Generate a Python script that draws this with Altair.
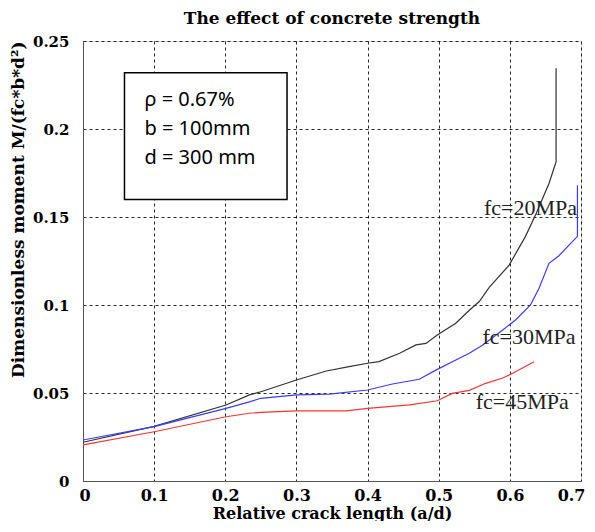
import altair as alt
import pandas as pd

# ---- data ----
x_20 = [0.0, 0.1, 0.201, 0.234, 0.25, 0.3, 0.342, 0.374, 0.4, 0.416, 0.445, 0.468, 0.482, 0.498,
        0.524, 0.543, 0.557, 0.571, 0.599, 0.622, 0.637, 0.655, 0.665, 0.665]
y_20 = [0.022, 0.031, 0.0432, 0.0489, 0.0507, 0.0574, 0.0625, 0.065, 0.0669, 0.0678, 0.0726, 0.0773, 0.0782, 0.083,
        0.0896, 0.097, 0.102, 0.110, 0.1227, 0.139, 0.152, 0.169, 0.1814, 0.2345]

x_30 = [0.0, 0.1, 0.201, 0.234, 0.25, 0.3, 0.346, 0.4, 0.435, 0.4726, 0.496, 0.524, 0.543, 0.562,
        0.59, 0.608, 0.629, 0.641, 0.655, 0.669, 0.695, 0.695]
y_30 = [0.0233, 0.0309, 0.0413, 0.045, 0.047, 0.0489, 0.0494, 0.0517, 0.0551, 0.0578, 0.063, 0.0688, 0.0726, 0.0773,
        0.0858, 0.0915, 0.100, 0.1095, 0.1237, 0.128, 0.139, 0.168]

x_45 = [0.0, 0.1, 0.201, 0.234, 0.25, 0.3, 0.37, 0.4, 0.459, 0.498, 0.519, 0.543, 0.566, 0.59, 0.604, 0.634]
y_45 = [0.0205, 0.028, 0.0365, 0.0385, 0.039, 0.0398, 0.0398, 0.0413, 0.0432, 0.0456, 0.0498, 0.0515, 0.0555, 0.0585, 0.0612, 0.0678]

series_names = ["fc=20MPa", "fc=30MPa", "fc=45MPa"]
series_colors = ["#333333", "#3b3bff", "#ff3333"]

x_ticks = [0, 0.1, 0.2, 0.3, 0.4, 0.5, 0.6, 0.7]
y_ticks = [0, 0.05, 0.1, 0.15, 0.2, 0.25]

info_lines = ["\u03c1 = 0.67%", "b = 100mm", "d = 300 mm"]

# ---- annotation placement (data units) ----
label_x = [0.5636, 0.5615, 0.552]
label_y = [0.155, 0.0818, 0.0449]
box_x = [0.0583, 0.2868]
box_y = [0.160, 0.232]
info_x = 0.0864
info_y = [0.2165, 0.1998, 0.1837]

rows = []
for name, xs, ys in zip(series_names, [x_20, x_30, x_45], [y_20, y_30, y_45]):
    for i, (a, b) in enumerate(zip(xs, ys)):
        rows.append({"series": name, "x": a, "y": b, "order": i})
df = pd.DataFrame(rows)

serif = "DejaVu Serif"

xscale = alt.Scale(domain=[0, 0.7], nice=False, zero=False)
yscale = alt.Scale(domain=[0, 0.25], nice=False, zero=False)

lines = alt.Chart(df).mark_line(strokeWidth=1.2, clip=True).encode(
    x=alt.X("x:Q", scale=xscale,
            axis=alt.Axis(title="Relative crack length (a/d)", values=x_ticks, format="~g",
                          grid=True, gridDash=[3, 3], gridColor="#000000", gridOpacity=0.85,
                          ticks=False, labelPadding=6, titlePadding=2,
                          labelFont=serif, labelFontSize=16, labelFontWeight="bold", labelColor="#000",
                          titleFont=serif, titleFontSize=16, titleFontWeight="bold", titleColor="#000",
                          domainColor="#555", labelFlush=True, labelFlushOffset=4)),
    y=alt.Y("y:Q", scale=yscale,
            axis=alt.Axis(title="Dimensionless moment M/(fc*b*d\u00b2)", values=y_ticks, format="~g",
                          grid=True, gridDash=[3, 3], gridColor="#000000", gridOpacity=0.85,
                          ticks=False, labelPadding=14, titlePadding=5, titleAnchor="end",
                          labelFont=serif, labelFontSize=15, labelFontWeight="bold", labelColor="#000",
                          titleFont=serif, titleFontSize=17, titleFontWeight="bold", titleColor="#000",
                          domainColor="#555", labelFlush=False)),
    color=alt.Color("series:N", scale=alt.Scale(domain=series_names, range=series_colors), legend=None),
    order="order:Q",
)

lab_df = pd.DataFrame({"x": label_x, "y": label_y, "t": series_names})
labels = alt.Chart(lab_df).mark_text(
    align="left", baseline="middle", font="Liberation Serif", fontSize=22, color="#222"
).encode(x=alt.X("x:Q", scale=xscale), y=alt.Y("y:Q", scale=yscale), text="t:N")

box_df = pd.DataFrame({"x": [box_x[0]], "x2": [box_x[1]], "y": [box_y[0]], "y2": [box_y[1]]})
box = alt.Chart(box_df).mark_rect(fill="white", stroke="black", strokeWidth=1.5).encode(
    x=alt.X("x:Q", scale=xscale), x2="x2", y=alt.Y("y:Q", scale=yscale), y2="y2"
)

info_df = pd.DataFrame({"x": [info_x] * 3, "y": info_y, "t": info_lines})
info = alt.Chart(info_df).mark_text(
    align="left", baseline="middle", font="Noto Sans", fontSize=20, color="#000"
).encode(x=alt.X("x:Q", scale=xscale), y=alt.Y("y:Q", scale=yscale), text="t:N")

chart = alt.layer(lines, box, info, labels).properties(
    width=498, height=440,
    title=alt.TitleParams("The effect of concrete strength", font=serif, fontSize=17,
                          fontWeight="bold", color="#000", offset=6),
    padding={"left": 1, "right": 0, "top": 2, "bottom": 0},
).configure_view(stroke="#555", strokeWidth=1.5).configure(background="white")

chart.save("out.html", embed_options={"renderer": "svg", "actions": False})
